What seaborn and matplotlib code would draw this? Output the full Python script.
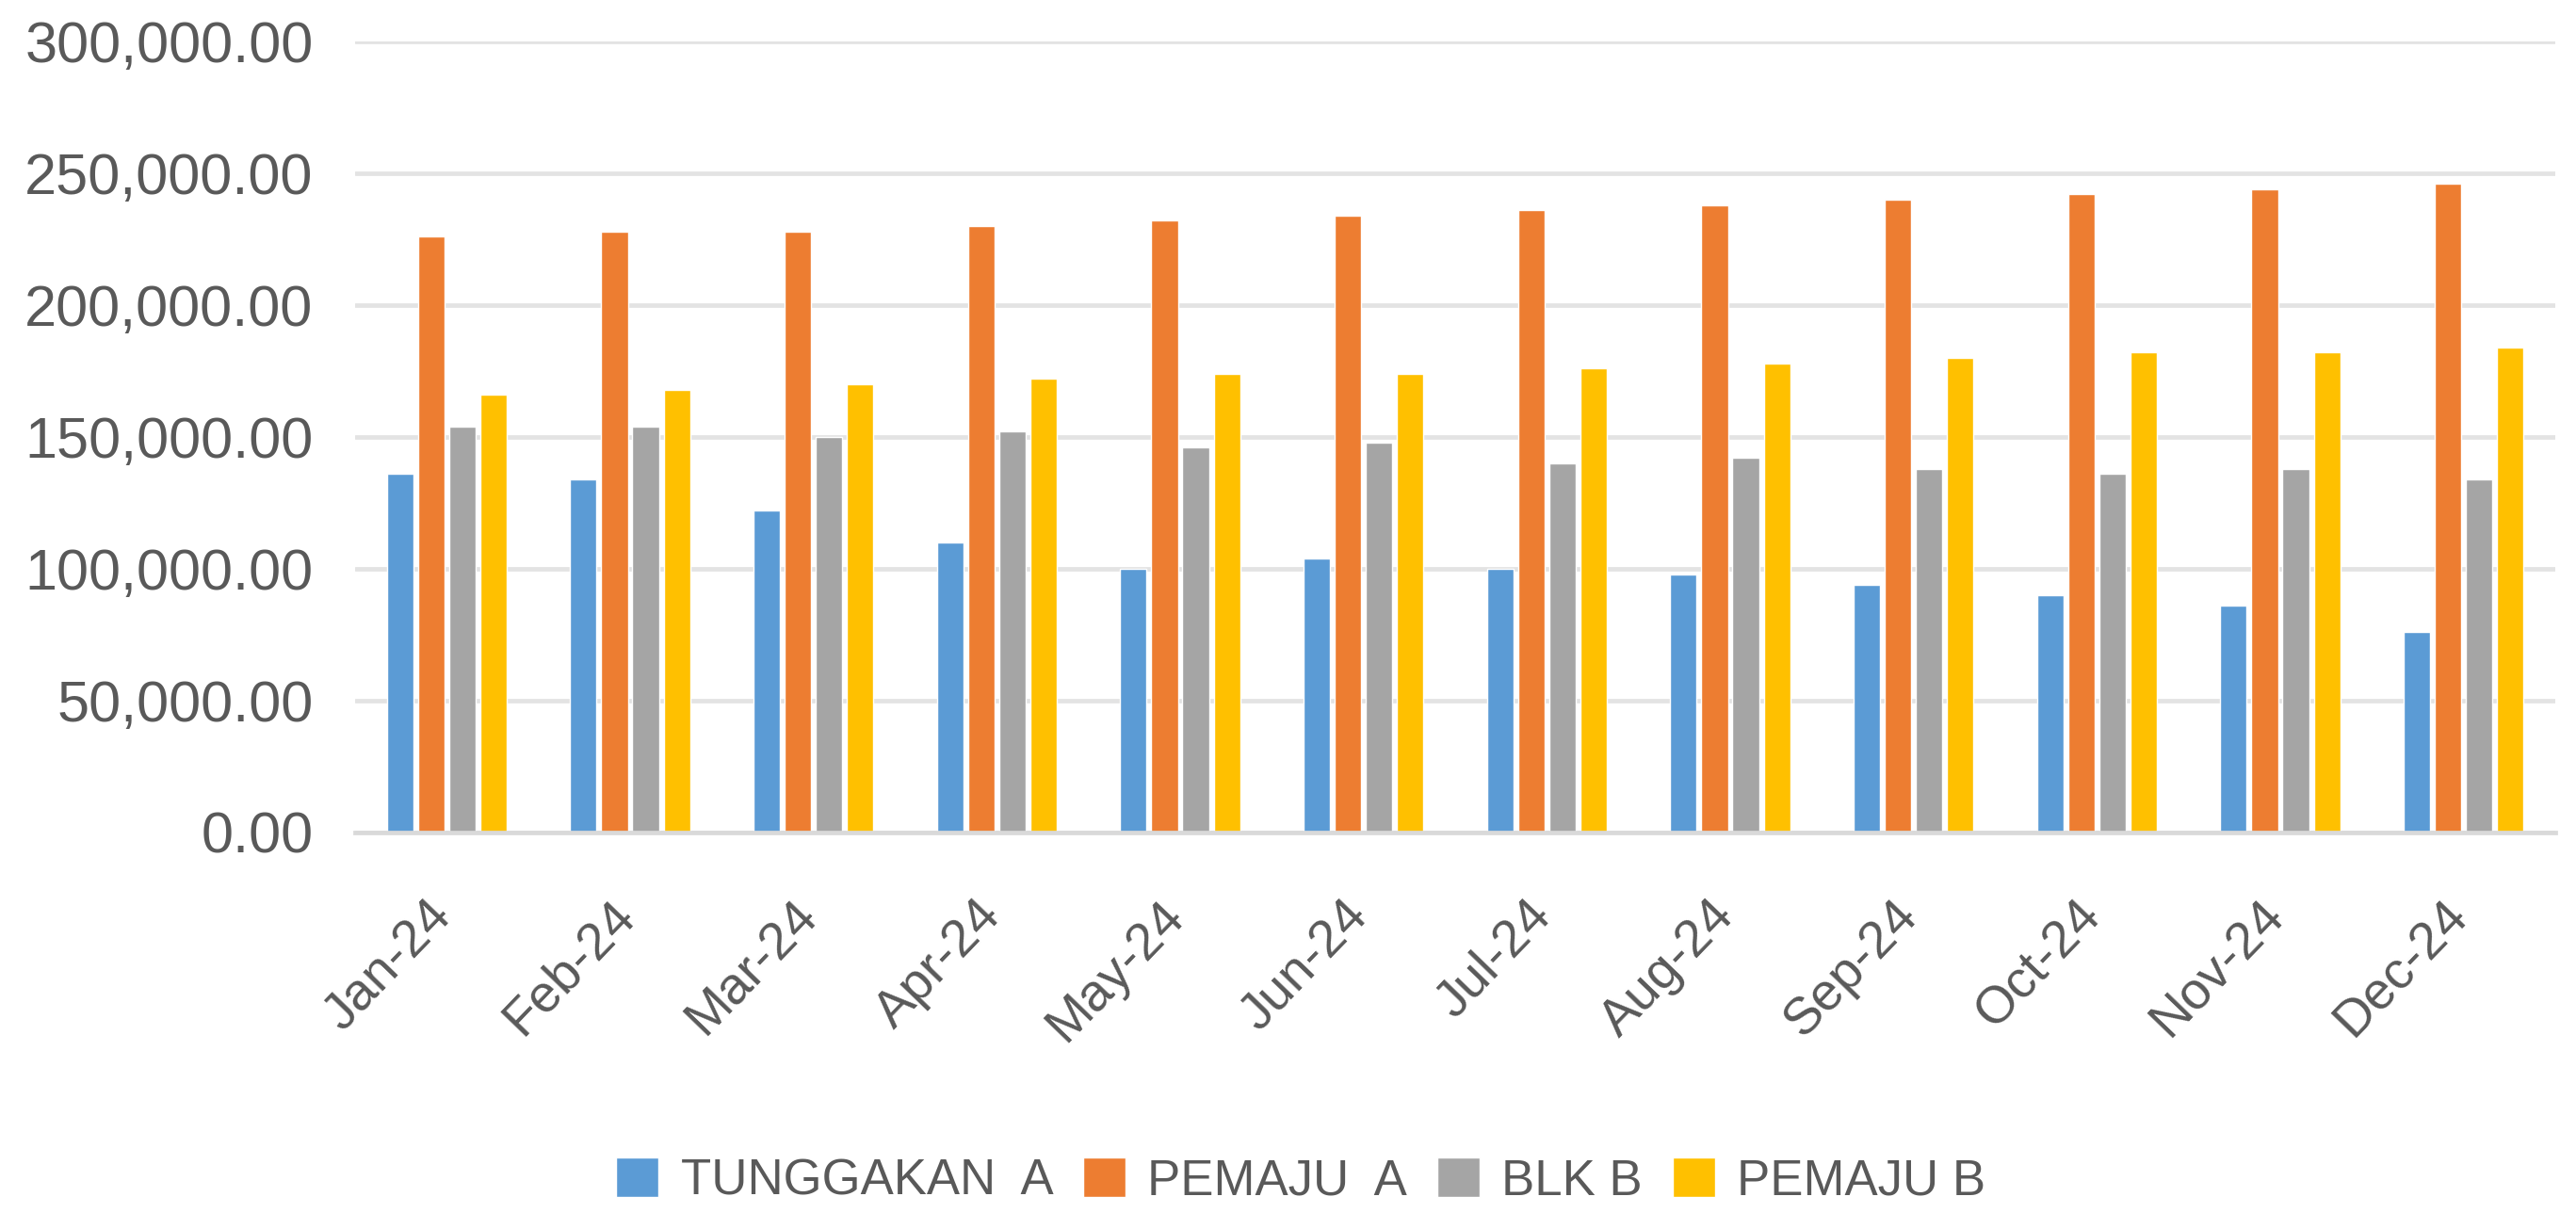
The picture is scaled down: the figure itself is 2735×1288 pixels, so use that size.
import numpy as np
import pandas as pd
import matplotlib
matplotlib.use("Agg")
import matplotlib.pyplot as plt
from matplotlib.ticker import FuncFormatter, FixedLocator
from matplotlib.transforms import ScaledTranslation
import seaborn as sns

months = ["Jan-24", "Feb-24", "Mar-24", "Apr-24", "May-24", "Jun-24",
          "Jul-24", "Aug-24", "Sep-24", "Oct-24", "Nov-24", "Dec-24"]
series_names = ["TUNGGAKAN  A", "PEMAJU  A", "BLK B", "PEMAJU B"]
tunggakan_a = [136000, 134000, 122000, 110000, 100000, 104000,
               100000, 98000, 94000, 90000, 86000, 76000]
pemaju_a = [226000, 228000, 228000, 230000, 232000, 234000,
            236000, 238000, 240000, 242000, 244000, 246000]
blk_b = [154000, 154000, 150000, 152000, 146000, 148000,
         140000, 142000, 138000, 136000, 138000, 134000]
pemaju_b = [166000, 168000, 170000, 172000, 174000, 174000,
            176000, 178000, 180000, 182000, 182000, 184000]
colors = ["#5B9BD5", "#ED7D31", "#A5A5A5", "#FFC000"]

df = pd.DataFrame({
    "month": months * 4,
    "series": [s for s in series_names for _ in months],
    "value": tunggakan_a + pemaju_a + blk_b + pemaju_b,
})

sns.set_style("white")
plt.rcParams["font.family"] = ["Liberation Sans", "DejaVu Sans"]
text_color = "#595959"

fig = plt.figure(figsize=(27.35, 12.88), dpi=100)
ax = fig.add_axes([377 / 2735, 1 - 884 / 1288, (2713 - 377) / 2735, (884 - 44) / 1288])

sns.barplot(data=df, x="month", y="value", hue="series", hue_order=series_names,
            order=months, palette=colors, saturation=1, width=0.68, ax=ax,
            errorbar=None, legend=True)

# leave a small gap between bars within a group
for cont in ax.containers:
    for p in cont.patches:
        w = p.get_width()
        p.set_x(p.get_x() + w * 0.075)
        p.set_width(w * 0.85)

ax.set_ylim(0, 300000)
ax.set_xlim(-0.5, len(months) - 0.5)
ax.set_yticks(np.arange(0, 300001, 50000))
ax.yaxis.set_major_formatter(FuncFormatter(lambda v, _: f"{v:,.2f}"))
ax.set_xlabel("")
ax.set_ylabel("")

ax.yaxis.grid(True, color="#E3E3E3", linewidth=3.4)
ax.xaxis.grid(False)
ax.set_axisbelow(True)
for s in ["left", "right", "top"]:
    ax.spines[s].set_visible(False)
ax.spines["bottom"].set_color("#D9D9D9")
ax.spines["bottom"].set_linewidth(3.4)

ax.tick_params(axis="y", length=0, pad=32, labelsize=44, labelcolor=text_color)
ax.tick_params(axis="x", which="major", length=0, pad=45, labelsize=40,
               labelcolor=text_color)
ax.xaxis.set_minor_locator(FixedLocator(np.arange(-0.5, len(months), 1.0)))
ax.tick_params(axis="x", which="minor", length=16, width=4.3, color="#D9D9D9",
               direction="out")
shift = ScaledTranslation(-22 / 100, 0, fig.dpi_scale_trans)
for lab in ax.get_xticklabels():
    lab.set_rotation(46)
    lab.set_ha("right")
    lab.set_va("top")
    lab.set_rotation_mode("anchor")
    lab.set_transform(lab.get_transform() + shift)

handles, labels = ax.get_legend_handles_labels()
if ax.get_legend() is not None:
    ax.get_legend().remove()
leg = fig.legend(handles, labels, loc="center", bbox_to_anchor=(0.505, 0.026),
                 ncol=4, frameon=False, fontsize=38, handlelength=0.85,
                 handleheight=0.85, handletextpad=0.45, columnspacing=0.6,
                 labelcolor=text_color)

fig.savefig("out.png", dpi=100, facecolor="white")
